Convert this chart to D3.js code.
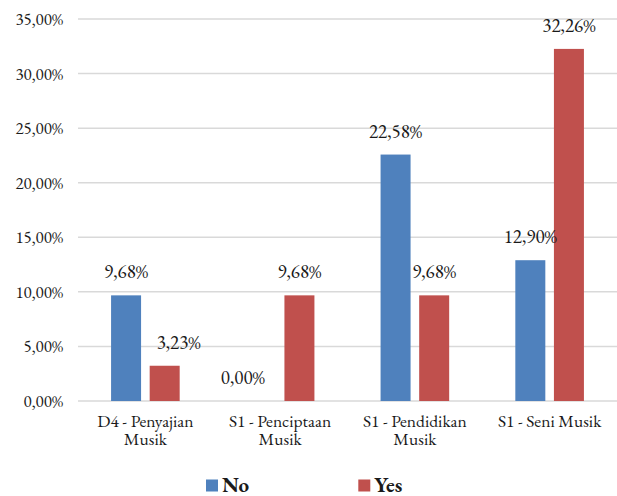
<!DOCTYPE html>
<html>
<head>
<meta charset="utf-8">
<script src="https://cdn.jsdelivr.net/npm/d3@7"></script>
<style>
  html, body { margin: 0; padding: 0; background: #ffffff; }
  svg { display: block; }
</style>
</head>
<body>
<svg id="chart" width="617" height="496"></svg>
<script>
// ---- data ----
const categories = [
  ["D4 - Penyajian", "Musik"],
  ["S1 - Penciptaan", "Musik"],
  ["S1 - Pendidikan", "Musik"],
  ["S1 - Seni Musik"]
];
const seriesNames = ["No", "Yes"];
const noValues  = [0.0968, 0.0000, 0.2258, 0.1290];
const yesValues = [0.0323, 0.0968, 0.0968, 0.3226];
const yTicks = [0, 0.05, 0.10, 0.15, 0.20, 0.25, 0.30, 0.35];
const colors = ["#4F81BD", "#C0504D"];

// ---- layout ----
const FONT = "EB Garamond, Liberation Serif, serif";
const svg = d3.select("#chart").attr("font-family", FONT);
const plotLeft = 78, plotRight = 617, plotTop = 19, plotBottom = 401;
const catKeys = categories.map(c => c.join(" "));
const seriesValues = [noValues, yesValues];

const y = d3.scaleLinear().domain([0, 0.35]).range([plotBottom, plotTop]);
const x0 = d3.scaleBand().domain(catKeys).range([plotLeft, plotRight]).padding(0);
const x1 = d3.scaleBand().domain(seriesNames)
  .range([x0.bandwidth() / 2 - 34.3, x0.bandwidth() / 2 + 34.3])
  .paddingInner(0.223).paddingOuter(0);

const fmt = v => d3.format(".2f")(v * 100).replace(".", ",") + "%";

// gridlines
svg.append("g").selectAll("line").data(yTicks).join("line")
  .attr("x1", plotLeft).attr("x2", plotRight)
  .attr("y1", d => y(d)).attr("y2", d => y(d))
  .attr("stroke", "#D9D9D9").attr("stroke-width", 1.5);

// y axis labels
const yAxis = d3.axisLeft(y).tickValues(yTicks).tickFormat(fmt).tickSize(0).tickPadding(15);
const gy = svg.append("g").attr("transform", `translate(${plotLeft},0)`).call(yAxis);
gy.attr("font-family", FONT);
gy.select(".domain").remove();
gy.selectAll("text").attr("font-size", 17).attr("fill", "#1a1a1a").attr("font-family", FONT);

// bars
const rows = [];
catKeys.forEach((k, i) => {
  seriesNames.forEach((s, j) => rows.push({cat: k, ci: i, series: s, sj: j, value: seriesValues[j][i]}));
});

svg.append("g").selectAll("rect").data(rows).join("rect")
  .attr("x", d => x0(d.cat) + x1(d.series))
  .attr("y", d => y(d.value))
  .attr("width", x1.bandwidth())
  .attr("height", d => y(0) - y(d.value))
  .attr("fill", d => colors[d.sj]);

// data labels (small nudges where the original shifts a label to avoid overlap)
const nudge = (d) => (d.ci === 0 && d.sj === 1) ? 14 : (d.ci === 1 && d.sj === 0) ? -18 : 0;
svg.append("g").selectAll("text").data(rows).join("text")
  .attr("x", d => x0(d.cat) + x1(d.series) + x1.bandwidth() / 2 + nudge(d))
  .attr("y", d => y(d.value) - 17)
  .attr("text-anchor", "middle")
  .attr("font-family", FONT)
  .attr("font-size", 19)
  .attr("fill", "#1a1a1a")
  .text(d => fmt(d.value));

// category labels (one text per line)
const catLines = [];
categories.forEach((lines, i) => lines.forEach((ln, li) => catLines.push({i, li, ln})));
svg.append("g").selectAll("text").data(catLines).join("text")
  .attr("x", d => x0(catKeys[d.i]) + x0.bandwidth() / 2)
  .attr("y", d => 427 + d.li * 18)
  .attr("text-anchor", "middle")
  .attr("font-family", FONT)
  .attr("font-size", 17.5)
  .attr("fill", "#1a1a1a")
  .text(d => d.ln);

// legend
const legendX = [206, 358.3];
const lg = svg.append("g").selectAll("g").data(seriesNames).join("g")
  .attr("transform", (d, i) => `translate(${legendX[i]},479.5)`);
lg.append("rect").attr("width", 12).attr("height", 12).attr("fill", (d, i) => colors[i]);
lg.append("text").attr("x", 16).attr("y", 12)
  .attr("font-family", FONT)
  .attr("font-size", 21).attr("font-weight", "bold").attr("fill", "#1a1a1a")
  .text(d => d);
</script>
</body>
</html>
